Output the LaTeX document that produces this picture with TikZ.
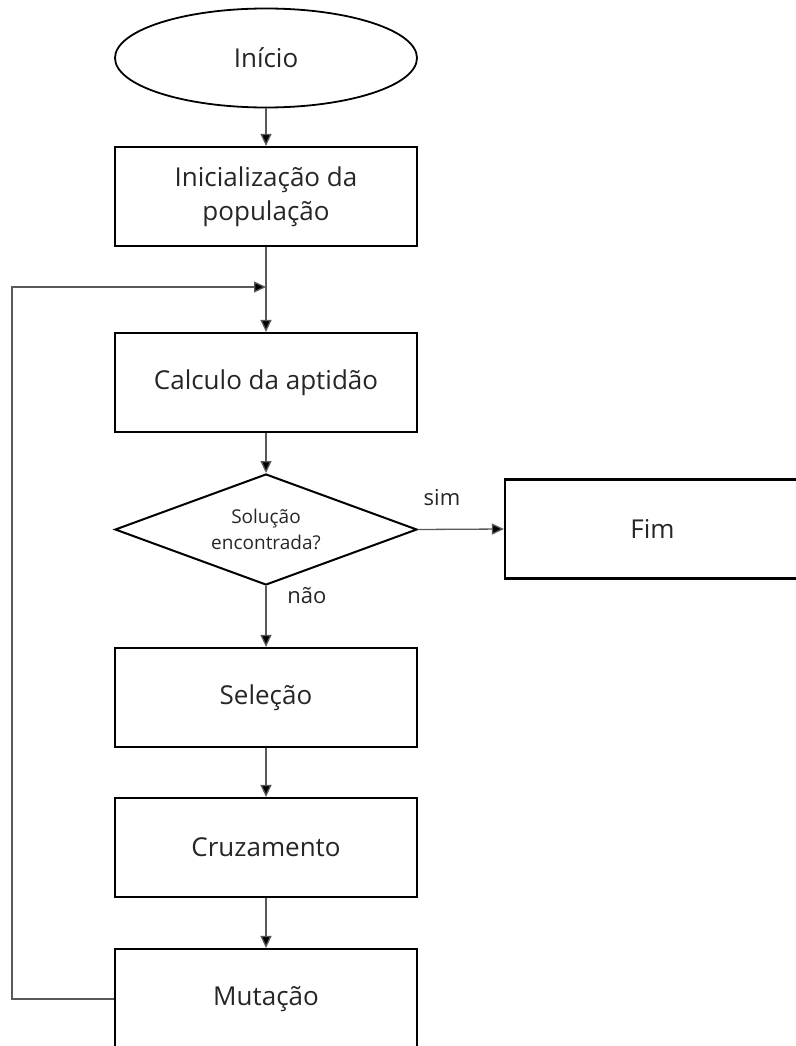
\documentclass[tikz,border=0pt]{standalone}
\usepackage{fontspec}
\setmainfont{Open Sans}
\usetikzlibrary{shapes.geometric,arrows.meta}
\begin{document}
\begin{tikzpicture}[x=1pt,y=-1pt,
  procbox/.style={draw=black,line width=2.2pt,minimum width=302pt,minimum height=99pt,align=center,inner sep=0pt,font=\fontsize{26}{34}\selectfont,text=black!85},
  conn/.style={draw=black!65,line width=1.3pt},
  arr/.style={conn,-{Triangle[length=12pt,width=11pt,fill=black]}},
  lbl/.style={font=\fontsize{22}{26}\selectfont,text=black!85,inner sep=0pt}]
\useasboundingbox (0,0) rectangle (795,1046);
\node[ellipse,draw=black,line width=1.8pt,minimum width=302pt,minimum height=99pt,inner sep=0pt,font=\fontsize{26}{30}\selectfont,text=black!85] (start) at (266,58) {Início};
\node[procbox] (init) at (266,196.5) {Inicialização da\\população};
\node[procbox] (calc) at (266,382.5) {Calculo da aptidão};
\node[diamond,shape aspect=2.72,draw=black,line width=2pt,minimum width=302pt,minimum height=111pt,inner sep=0pt,align=center,font=\fontsize{19}{26}\selectfont,text=black!85] (dec) at (266,529.5) {Solução\\encontrada?};
\node[procbox,minimum width=295pt] (fim) at (652.5,529) {Fim};
\node[procbox] (sel) at (266,697.5) {Seleção};
\node[procbox] (cruz) at (266,847.5) {Cruzamento};
\node[procbox,minimum height=100pt] (mut) at (266,999) {Mutação};
\node[lbl] (sim) at (442,498) {sim};
\node[lbl] (nao) at (307,596) {não};
\coordinate (loopL) at (12,287);
\coordinate (loopJ) at (266,287);
\draw[arr] (start) -- (init);
\draw[arr] (init) -- (calc);
\draw[arr] (calc) -- (dec);
\draw[arr] (dec.east) -- (fim.west);
\draw[arr] (dec.south) -- (sel.north);
\draw[arr] (sel) -- (cruz);
\draw[arr] (cruz) -- (mut);
\draw[arr] (mut.west) -- (mut.west -| loopL) -- (loopL) -- (loopJ);
\end{tikzpicture}
\end{document}
